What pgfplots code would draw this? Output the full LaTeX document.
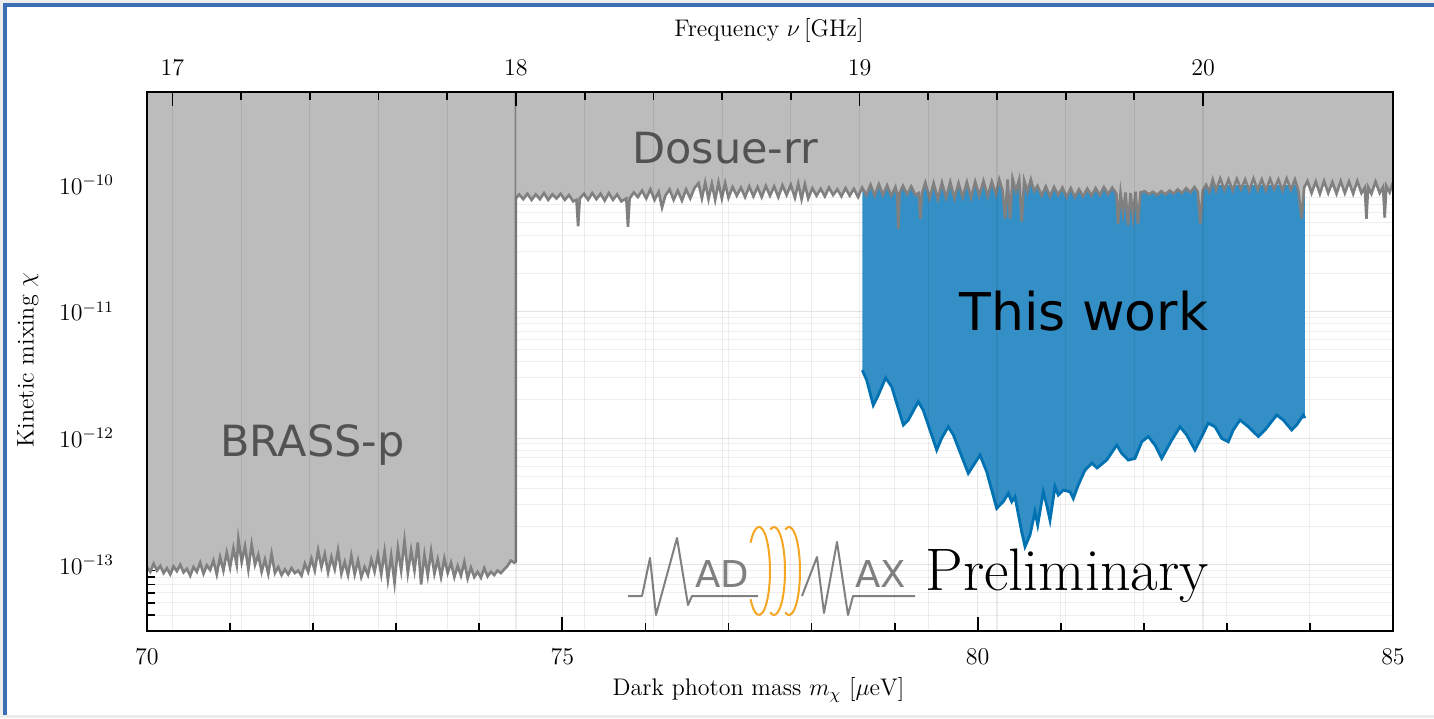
\documentclass[border=0pt]{standalone}
\usepackage{fontspec}
\usepackage{pgfplots}
\usepackage{pgfplotstable}
\pgfplotsset{compat=1.18}
\newfontfamily\djv{DejaVu Sans}
\definecolor{fillgray}{RGB}{188,188,188}
\definecolor{linegray}{RGB}{128,128,128}
\definecolor{bluefill}{RGB}{52,143,198}
\definecolor{blueline}{RGB}{0,114,178}
\definecolor{coil}{RGB}{245,166,35}
\definecolor{border}{RGB}{60,110,180}
\definecolor{txtgray}{RGB}{82,82,82}

\pgfplotstableread[row sep=\\]{x y\\
78.611 3.44e-12\\ 78.664 2.87e-12\\ 78.743 1.82e-12\\ 78.804 2.19e-12\\ 78.893 2.99e-12\\
78.965 2.54e-12\\ 79.105 1.27e-12\\ 79.165 1.39e-12\\ 79.285 1.94e-12\\ 79.345 1.66e-12\\
79.507 8.05e-13\\ 79.567 1.00e-12\\ 79.646 1.23e-12\\ 79.707 1.06e-12\\ 79.887 5.27e-13\\
80.028 7.35e-13\\ 80.109 5.42e-13\\ 80.229 2.79e-13\\ 80.308 3.15e-13\\ 80.369 3.66e-13\\
80.410 3.15e-13\\ 80.449 3.44e-13\\ 80.530 1.82e-13\\ 80.570 1.39e-13\\ 80.630 1.72e-13\\
80.690 2.62e-13\\ 80.723 2.06e-13\\ 80.790 3.77e-13\\ 80.831 2.96e-13\\ 80.871 2.25e-13\\
80.931 4.13e-13\\ 80.971 3.55e-13\\ 81.031 3.89e-13\\ 81.112 3.77e-13\\ 81.151 3.34e-13\\
81.211 4.26e-13\\ 81.292 5.60e-13\\ 81.376 6.35e-13\\ 81.437 5.81e-13\\ 81.553 6.71e-13\\
81.674 8.81e-13\\ 81.734 7.59e-13\\ 81.813 6.71e-13\\ 81.894 6.92e-13\\ 81.975 9.35e-13\\
82.054 1.03e-12\\ 82.135 8.81e-13\\ 82.215 6.92e-13\\ 82.336 9.64e-13\\ 82.436 1.23e-12\\
82.516 1.06e-12\\ 82.616 8.05e-13\\ 82.697 1.03e-12\\ 82.776 1.31e-12\\ 82.857 1.23e-12\\
82.938 9.95e-13\\ 83.017 9.35e-13\\ 83.077 1.16e-12\\ 83.158 1.39e-12\\ 83.258 1.23e-12\\
83.378 1.03e-12\\ 83.459 1.16e-12\\ 83.600 1.52e-12\\ 83.679 1.39e-12\\ 83.780 1.16e-12\\
83.840 1.27e-12\\ 83.920 1.52e-12\\ 83.940 1.44e-12\\
}\thiswork

\pgfplotstableread[row sep=\\]{x y\\
70.00 9.6e-14\\ 70.04 8.8e-14\\ 70.08 1.02e-13\\ 70.12 9.0e-14\\ 70.16 9.8e-14\\ 70.20 8.6e-14\\
70.24 9.4e-14\\ 70.28 8.4e-14\\ 70.32 9.7e-14\\ 70.36 8.9e-14\\ 70.40 1.0e-13\\ 70.44 8.7e-14\\
70.48 9.3e-14\\ 70.52 8.2e-14\\ 70.56 9.6e-14\\ 70.60 8.8e-14\\ 70.64 1.04e-13\\ 70.68 8.5e-14\\
70.72 9.9e-14\\ 70.76 9.1e-14\\ 70.80 1.08e-13\\ 70.84 8.4e-14\\ 70.88 1.15e-13\\ 70.92 9.0e-14\\
70.96 1.25e-13\\ 71.00 9.5e-14\\ 71.04 1.35e-13\\ 71.08 1.0e-13\\ 71.10 1.6e-13\\ 71.14 1.05e-13\\
71.18 1.4e-13\\ 71.22 9.2e-14\\ 71.26 1.45e-13\\ 71.30 1.0e-13\\ 71.34 1.2e-13\\ 71.38 8.8e-14\\
71.42 1.1e-13\\ 71.46 8.5e-14\\ 71.50 1.22e-13\\ 71.54 8.6e-14\\ 71.58 9.6e-14\\ 71.62 8.3e-14\\
71.66 9.2e-14\\ 71.70 8.4e-14\\ 71.74 9.4e-14\\ 71.78 8.6e-14\\ 71.82 9.0e-14\\ 71.86 8.2e-14\\
71.90 1.02e-13\\ 71.94 8.8e-14\\ 71.98 1.12e-13\\ 72.02 9.0e-14\\ 72.06 1.3e-13\\ 72.10 9.6e-14\\
72.14 1.22e-13\\ 72.18 8.7e-14\\ 72.22 1.15e-13\\ 72.26 9.2e-14\\ 72.30 1.3e-13\\ 72.34 8.5e-14\\
72.38 1.05e-13\\ 72.42 8.3e-14\\ 72.46 1.18e-13\\ 72.50 8.4e-14\\ 72.54 1.08e-13\\ 72.58 8.0e-14\\
72.62 9.6e-14\\ 72.66 8.3e-14\\ 72.70 1.1e-13\\ 72.74 8.8e-14\\ 72.78 1.2e-13\\ 72.82 8.4e-14\\
72.86 1.28e-13\\ 72.90 7.6e-14\\ 72.94 1.18e-13\\ 72.98 7.2e-14\\ 73.02 1.35e-13\\ 73.06 9.0e-14\\
73.10 1.55e-13\\ 73.14 8.6e-14\\ 73.18 1.3e-13\\ 73.22 9.0e-14\\ 73.26 1.5e-13\\ 73.30 7.0e-14\\
73.34 1.2e-13\\ 73.38 8.2e-14\\ 73.42 1.28e-13\\ 73.46 8.5e-14\\ 73.50 1.1e-13\\ 73.54 8.0e-14\\
73.58 1.12e-13\\ 73.62 8.6e-14\\ 73.66 1.04e-13\\ 73.70 8.0e-14\\ 73.74 9.8e-14\\ 73.78 8.2e-14\\
73.82 1.05e-13\\ 73.86 7.8e-14\\ 73.90 9.5e-14\\ 73.94 8.0e-14\\ 73.98 8.8e-14\\ 74.02 7.9e-14\\
74.06 9.4e-14\\ 74.10 8.1e-14\\ 74.14 8.8e-14\\ 74.18 8.3e-14\\ 74.22 9.0e-14\\ 74.26 8.6e-14\\
74.30 9.2e-14\\ 74.34 9.8e-14\\ 74.38 1.08e-13\\ 74.42 1.04e-13\\ 74.44 1.06e-13\\ 74.44 6e-10\\
}\brass

\pgfplotstableread[row sep=\\]{x y\\
74.44 7.8e-11\\ 74.48 8.4e-11\\ 74.53 7.7e-11\\ 74.58 8.5e-11\\ 74.63 7.6e-11\\ 74.68 8.4e-11\\
74.73 7.7e-11\\ 74.78 8.6e-11\\ 74.83 7.6e-11\\ 74.88 8.4e-11\\ 74.93 7.8e-11\\ 74.98 8.5e-11\\
75.03 7.6e-11\\ 75.08 8.3e-11\\ 75.13 7.4e-11\\ 75.17 7.6e-11\\ 75.19 4.7e-11\\ 75.21 7.8e-11\\
75.26 8.5e-11\\ 75.31 7.6e-11\\ 75.36 8.6e-11\\ 75.41 7.7e-11\\ 75.46 8.5e-11\\ 75.51 7.5e-11\\
75.56 8.6e-11\\ 75.61 7.6e-11\\ 75.66 8.4e-11\\ 75.71 7.4e-11\\ 75.77 7.8e-11\\ 75.79 4.65e-11\\
75.81 7.8e-11\\ 75.86 8.7e-11\\ 75.91 8.0e-11\\ 75.96 9.0e-11\\ 76.01 7.8e-11\\ 76.06 9.2e-11\\
76.11 7.6e-11\\ 76.16 8.8e-11\\ 76.20 6.6e-11\\ 76.24 8.2e-11\\ 76.29 9.2e-11\\ 76.34 7.6e-11\\
76.39 9.0e-11\\ 76.44 7.5e-11\\ 76.49 9.2e-11\\ 76.54 7.8e-11\\ 76.59 9.4e-11\\ 76.64 1.03e-10\\
76.68 7.8e-11\\ 76.72 1.04e-10\\ 76.76 7.7e-11\\ 76.80 1.02e-10\\ 76.84 7.6e-11\\ 76.88 1.04e-10\\
76.92 7.8e-11\\ 76.96 1.03e-10\\ 77.00 7.9e-11\\ 77.05 9.6e-11\\ 77.10 8.2e-11\\ 77.15 9.5e-11\\
77.20 8.0e-11\\ 77.25 9.7e-11\\ 77.30 8.1e-11\\ 77.35 9.6e-11\\ 77.40 8.0e-11\\ 77.45 9.8e-11\\
77.50 8.2e-11\\ 77.55 9.7e-11\\ 77.60 8.0e-11\\ 77.65 9.9e-11\\ 77.70 8.3e-11\\ 77.75 1.0e-10\\
77.80 7.9e-11\\ 77.84 1.02e-10\\ 77.88 7.7e-11\\ 77.92 1.01e-10\\ 77.96 7.8e-11\\ 78.01 9.4e-11\\
78.06 8.2e-11\\ 78.11 9.3e-11\\ 78.16 8.1e-11\\ 78.21 9.5e-11\\ 78.26 8.3e-11\\ 78.31 9.2e-11\\
78.36 8.1e-11\\ 78.41 9.4e-11\\ 78.46 8.2e-11\\ 78.51 9.3e-11\\ 78.56 8.0e-11\\ 78.61 9.5e-11\\
78.66 8.3e-11\\ 78.71 1.0e-10\\ 78.76 8.2e-11\\ 78.81 1.01e-10\\ 78.86 8.3e-11\\ 78.91 9.9e-11\\
78.96 8.2e-11\\ 79.01 9.6e-11\\ 79.03 8.4e-11\\ 79.045 4.5e-11\\ 79.06 8.6e-11\\ 79.10 9.8e-11\\
79.15 8.4e-11\\ 79.20 9.7e-11\\ 79.25 8.3e-11\\ 79.29 8.6e-11\\ 79.31 5.4e-11\\ 79.33 8.6e-11\\
79.37 1.04e-10\\ 79.42 7.8e-11\\ 79.47 1.03e-10\\ 79.52 7.7e-11\\ 79.57 1.04e-10\\ 79.62 7.9e-11\\
79.67 1.05e-10\\ 79.72 7.8e-11\\ 79.77 1.03e-10\\ 79.82 8.0e-11\\ 79.87 1.05e-10\\ 79.92 7.9e-11\\
79.97 1.06e-10\\ 80.02 8.2e-11\\ 80.07 1.07e-10\\ 80.12 8.1e-11\\ 80.17 1.06e-10\\ 80.22 8.4e-11\\
80.26 1.1e-10\\ 80.30 9.0e-11\\ 80.33 5.4e-11\\ 80.36 1.1e-10\\ 80.39 5.4e-11\\ 80.42 1.12e-10\\
80.46 8.9e-11\\ 80.50 1.1e-10\\ 80.53 5.1e-11\\ 80.56 1.08e-10\\ 80.60 8.8e-11\\ 80.64 1.1e-10\\
80.68 8.9e-11\\ 80.72 9.8e-11\\ 80.77 8.2e-11\\ 80.82 9.7e-11\\ 80.87 8.1e-11\\ 80.92 9.6e-11\\
80.97 8.3e-11\\ 81.02 9.5e-11\\ 81.07 8.0e-11\\ 81.12 9.4e-11\\ 81.17 8.0e-11\\ 81.22 9.2e-11\\
81.27 8.1e-11\\ 81.32 9.3e-11\\ 81.37 8.2e-11\\ 81.42 9.4e-11\\ 81.47 8.3e-11\\ 81.52 9.6e-11\\
81.57 8.4e-11\\ 81.62 9.5e-11\\ 81.67 8.5e-11\\ 81.69 4.9e-11\\ 81.72 8.6e-11\\ 81.75 6.0e-11\\
81.78 8.7e-11\\ 81.81 4.8e-11\\ 81.84 8.6e-11\\ 81.87 5.6e-11\\ 81.90 8.8e-11\\ 81.93 4.9e-11\\
81.96 8.7e-11\\ 82.01 8.9e-11\\ 82.06 8.4e-11\\ 82.11 8.8e-11\\ 82.16 8.3e-11\\ 82.21 8.9e-11\\
82.26 8.4e-11\\ 82.31 9.0e-11\\ 82.36 8.5e-11\\ 82.41 9.2e-11\\ 82.46 8.6e-11\\ 82.51 9.4e-11\\
82.56 8.7e-11\\ 82.61 9.6e-11\\ 82.65 8.8e-11\\ 82.68 4.9e-11\\ 82.71 9.0e-11\\ 82.75 1.0e-10\\
82.79 8.8e-11\\ 82.83 1.1e-10\\ 82.87 9.0e-11\\ 82.92 1.12e-10\\ 82.97 9.1e-11\\ 83.02 1.1e-10\\
83.07 9.0e-11\\ 83.12 1.11e-10\\ 83.17 9.2e-11\\ 83.22 1.1e-10\\ 83.27 9.0e-11\\ 83.32 1.12e-10\\
83.37 9.1e-11\\ 83.42 1.1e-10\\ 83.47 9.0e-11\\ 83.52 1.11e-10\\ 83.57 9.2e-11\\ 83.62 1.1e-10\\
83.67 9.0e-11\\ 83.72 1.12e-10\\ 83.77 9.1e-11\\ 83.82 1.1e-10\\ 83.86 9.0e-11\\ 83.90 5.4e-11\\
83.93 9.5e-11\\ 83.97 1.07e-10\\ 84.02 8.6e-11\\ 84.07 1.06e-10\\ 84.12 8.5e-11\\ 84.17 1.07e-10\\
84.22 8.6e-11\\ 84.27 1.05e-10\\ 84.32 8.5e-11\\ 84.37 1.07e-10\\ 84.42 8.6e-11\\ 84.47 1.06e-10\\
84.52 8.5e-11\\ 84.57 1.07e-10\\ 84.62 8.6e-11\\ 84.66 9.5e-11\\ 84.68 5.4e-11\\ 84.70 9.6e-11\\
84.74 8.5e-11\\ 84.79 1.06e-10\\ 84.84 8.6e-11\\ 84.88 9.6e-11\\ 84.90 5.5e-11\\ 84.92 9.8e-11\\
84.96 8.7e-11\\ 85.00 1.05e-10\\
}\dosue

\begin{document}
\begin{tikzpicture}
\fill[black!7] (-73.5pt,-43.5pt) rectangle (643.5pt,315.5pt);
\fill[white] (-71pt,-42pt) rectangle (643.5pt,313pt);
\draw[border, line width=1.6pt] (-71pt,-42pt) -- (-71pt,313pt) -- (643.5pt,313pt);
\begin{axis}[
  at={(0pt,0pt)}, anchor=south west,
  width=623pt, height=269.5pt, scale only axis,
  xmin=70, xmax=85, ymode=log, ymin=3e-14, ymax=5.4e-10,
  xtick={70,75,80,85}, minor x tick num=4,
  ytick={1e-13,1e-12,1e-11,1e-10},
  minor ytick={4e-14,5e-14,6e-14,7e-14,8e-14,9e-14,
    2e-13,3e-13,4e-13,5e-13,6e-13,7e-13,8e-13,9e-13,
    2e-12,3e-12,4e-12,5e-12,6e-12,7e-12,8e-12,9e-12,
    2e-11,3e-11,4e-11,5e-11,6e-11,7e-11,8e-11,9e-11,
    2e-10,3e-10,4e-10,5e-10},
  xtick pos=left, ytick pos=left,
  tick align=inside,
  major tick length=7pt, minor tick length=4pt,
  every tick/.style={black, line width=0.9pt},
  grid=both,
  major grid style={gray!22, line width=0.5pt},
  minor grid style={gray!13, line width=0.5pt},
  axis line style={line width=1.3pt},
  tick label style={font=\fontsize{12}{14}\selectfont},
  xticklabel style={anchor=center, yshift=-13pt},
  yticklabel style={anchor=east, xshift=-13pt},
]
% ---------------- This work (blue) ----------------
\addplot[fill=bluefill, draw=none] table[x=x, y=y] {\thiswork}
  -- (axis cs:83.94,1e-10) -- (axis cs:78.611,1e-10) -- cycle;
\addplot[blueline, line width=1.4pt] table[x=x, y=y] {\thiswork};
% ---------------- BRASS-p ----------------
\addplot[fill=fillgray, draw=none] table[x=x, y=y] {\brass}
  -- (axis cs:70,6e-10) -- cycle;
\addplot[linegray, line width=1.3pt] table[x=x, y=y] {\brass};
% ---------------- Dosue-rr ----------------
\addplot[fill=fillgray, draw=none] table[x=x, y=y] {\dosue}
  -- (axis cs:85,6e-10) -- (axis cs:74.44,6e-10) -- cycle;
\addplot[linegray, line width=1.3pt] table[x=x, y=y] {\dosue};
% ---------------- texts ----------------
\node[font=\djv\fontsize{21.5}{24}\selectfont, text=txtgray, anchor=base] at (axis cs:76.96,1.48e-10) {Dosue-rr};
\node[font=\djv\fontsize{21.5}{24}\selectfont, text=txtgray, anchor=base] at (axis cs:71.99,7.1e-13) {BRASS-p};
\node[font=\djv\fontsize{26}{30}\selectfont, text=black, anchor=base] at (axis cs:81.28,7.13e-12) {This work};
\node[font=\fontsize{30}{34}\selectfont, text=black, anchor=base west, inner sep=0pt] at (axis cs:79.366,6.3e-14) {Preliminary};
\end{axis}
% ---------------- MADMAX logo ----------------
\draw[linegray, line width=1pt, line join=round]
  (240.5pt,17.5pt) -- (247.5pt,17.5pt) -- (251.5pt,36.5pt) -- (254.5pt,8pt) -- (265pt,46.5pt)
  -- (270.5pt,13pt) -- (272.5pt,17.5pt) -- (305.5pt,17.5pt);
\draw[linegray, line width=1pt, line join=round]
  (327.5pt,17.5pt) -- (335pt,37pt) -- (338.5pt,9pt) -- (345pt,44.5pt) -- (350.5pt,8pt)
  -- (353pt,17.5pt) -- (384pt,17.5pt);
\node[font=\djv\fontsize{18.5}{20}\selectfont, text=linegray, anchor=base west, inner sep=0pt] at (274pt,22pt) {AD};
\node[font=\djv\fontsize{18.5}{20}\selectfont, text=linegray, anchor=base west, inner sep=0pt] at (354pt,22pt) {AX};
\draw[coil, line width=1pt] (306pt,30pt) ++(140:5.5pt and 22pt) arc[start angle=140, end angle=-140, x radius=5.5pt, y radius=22pt];
\draw[coil, line width=1pt] (313.5pt,30pt) ++(110:5.5pt and 22pt) arc[start angle=110, end angle=-110, x radius=5.5pt, y radius=22pt];
\draw[coil, line width=1pt] (321pt,30pt) ++(110:5.5pt and 22pt) arc[start angle=110, end angle=-110, x radius=5.5pt, y radius=22pt];
% ---------------- top frequency axis ----------------
\begin{axis}[
  at={(0pt,0pt)}, anchor=south west,
  width=623pt, height=269.5pt, scale only axis,
  xmin=16.92592, xmax=20.55291, ymin=0, ymax=1,
  xtick={17,18,19,20}, minor x tick num=4,
  ytick=\empty,
  xtick pos=right, xticklabel pos=right,
  tick align=inside, major tick length=7pt, minor tick length=4pt,
  every tick/.style={black, line width=0.9pt},
  xmajorgrids, xminorgrids,
  major grid style={black, opacity=0.07, line width=0.6pt},
  minor grid style={black, opacity=0.07, line width=0.6pt},
  axis line style={line width=1.3pt},
  tick label style={font=\fontsize{12}{14}\selectfont},
  xticklabel style={anchor=center, yshift=12pt},
]
\end{axis}
% ---------------- axis labels ----------------
\node[font=\fontsize{12}{14}\selectfont] at (305.75pt,-29.5pt) {Dark photon mass $m_\chi$ $[\mu\mathrm{eV}]$};
\node[font=\fontsize{12}{14}\selectfont] at (311pt,300pt) {Frequency $\nu\,[\mathrm{GHz}]$};
\node[font=\fontsize{12}{14}\selectfont, rotate=90] at (-59.5pt,135.5pt) {Kinetic mixing $\chi$};
\pgfresetboundingbox
\path[use as bounding box] (-73.5pt,-43.5pt) rectangle (643.5pt,315.5pt);
\end{tikzpicture}
\end{document}
